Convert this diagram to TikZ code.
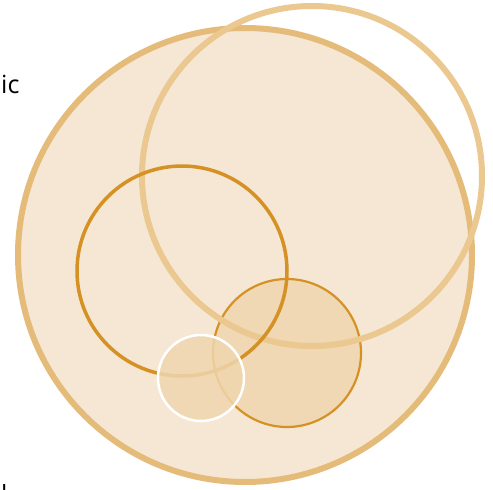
\documentclass[tikz,border=0pt]{standalone}
\usepackage{fontspec}
\setmainfont{Open Sans}
\usetikzlibrary{positioning}
\definecolor{vnFill}{HTML}{F5E7D3}
\definecolor{vnEdge}{HTML}{E4BB78}
\definecolor{vnRing}{HTML}{EAC88F}
\definecolor{vnMid}{HTML}{EFD6AE}
\definecolor{vnOrange}{HTML}{D69125}
\tikzset{
  outer/.style={draw=vnEdge, fill=vnFill, line width=6pt},
  ring/.style={draw=vnRing, line width=6pt},
  bold/.style={draw=vnOrange, line width=3.5pt},
  blob/.style={draw=vnOrange, fill=vnMid, fill opacity=0.85, line width=2.2pt},
  spot/.style={draw=white, fill=vnMid, fill opacity=0.85, line width=2.5pt},
  lbl/.style={font=\fontsize{25}{30}\selectfont, inner sep=0pt, text=black},
}

\begin{document}
\begin{tikzpicture}[x=1pt,y=-1pt]
        \useasboundingbox (0,0) rectangle (493,490);
        \draw[outer] (245,255) circle[radius=227];
        \draw[blob] (287,353) circle[radius=74];
        \draw[ring] (312,176) circle[radius=170];
        \draw[bold] (182,271) circle[radius=105];
        \draw[spot] (201,378) circle[radius=43];
        \node[lbl,anchor=base west] (top) at (1,93) {ic};
        \node[lbl,anchor=base west] (bot) at (1,503) {l};
      \end{tikzpicture}
\end{document}
